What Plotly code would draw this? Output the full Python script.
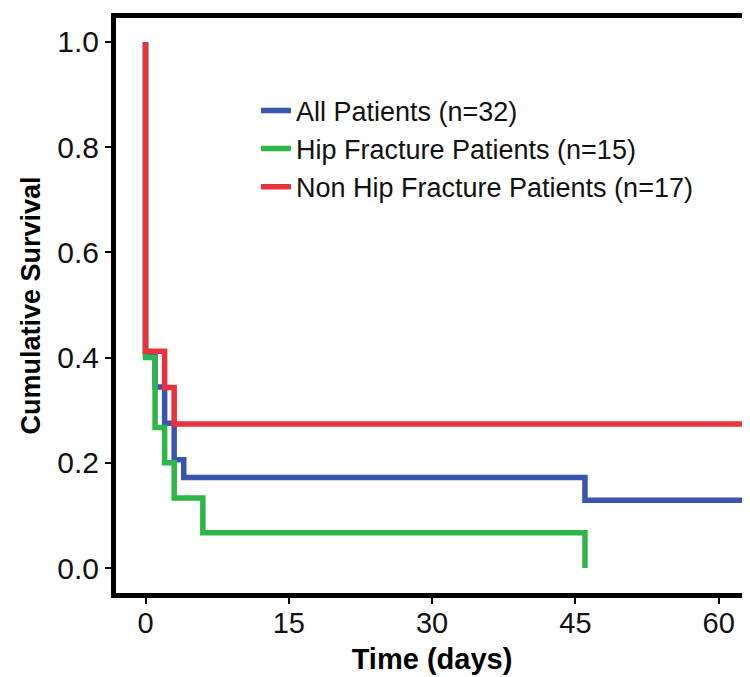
import plotly.graph_objects as go

# Kaplan-Meier step data (time in days, cumulative survival)
all_time = [0, 0, 1, 2, 3, 4, 46, 63.5]
all_surv = [1.0, 0.406, 0.344, 0.275, 0.206, 0.172, 0.129, 0.129]

hip_time = [0, 0, 1, 2, 3, 6, 46, 46]
hip_surv = [1.0, 0.400, 0.267, 0.200, 0.133, 0.067, 0.067, 0.0]

non_time = [0, 0, 2, 3, 63.5]
non_surv = [1.0, 0.412, 0.343, 0.274, 0.274]

series_names = ["All Patients (n=32)", "Hip Fracture Patients (n=15)",
                "Non Hip Fracture Patients (n=17)"]
series_colors = ["#3a55ae", "#2fb64a", "#e8323c"]

x_ticks = [0, 15, 30, 45, 60]
y_ticks = [0.0, 0.2, 0.4, 0.6, 0.8, 1.0]

fig = go.Figure()
for t, s, name, col in zip([all_time, hip_time, non_time],
                           [all_surv, hip_surv, non_surv],
                           series_names, series_colors):
    fig.add_trace(go.Scatter(x=t, y=s, mode="lines", name=name,
                             line=dict(color=col, width=5.5, shape="hv"),
                             cliponaxis=True))

fig.update_layout(
    width=750, height=677,
    margin=dict(l=108, r=10, t=10, b=92),
    paper_bgcolor="white", plot_bgcolor="white",
    showlegend=True,
    legend=dict(x=0.2215, y=0.881, xanchor="left", yanchor="top",
                font=dict(family="Liberation Sans, Arial", size=27, color="#111"),
                bgcolor="rgba(0,0,0,0)", itemwidth=30, tracegroupgap=0),
    xaxis=dict(range=[-3.09, 63.07], tickvals=x_ticks, ticks="outside",
               ticklen=6, tickwidth=1.5, tickcolor="black", automargin=False,
               ticklabelstandoff=-6,
               showgrid=False, zeroline=False,
               showline=True, linecolor="black", linewidth=5, mirror=True,
               tickfont=dict(family="Liberation Sans, Arial", size=29, color="#111"),
               title=dict(text="<b>Time (days)</b>", standoff=12,
                          font=dict(family="Liberation Sans, Arial", size=29, color="black"))),
    yaxis=dict(range=[-0.0475, 1.0456], tickvals=y_ticks, tickformat=".1f", ticks="outside",
               ticklen=6, tickwidth=1.5, tickcolor="black", automargin=False,
               showgrid=False, zeroline=False,
               showline=True, linecolor="black", linewidth=5, mirror=True,
               tickfont=dict(family="Liberation Sans, Arial", size=30, color="#111"),
               title=dict(text="<b>Cumulative Survival</b>", standoff=10,
                          font=dict(family="Liberation Sans, Arial", size=27, color="black"))),
)

fig.write_html("out.html")
